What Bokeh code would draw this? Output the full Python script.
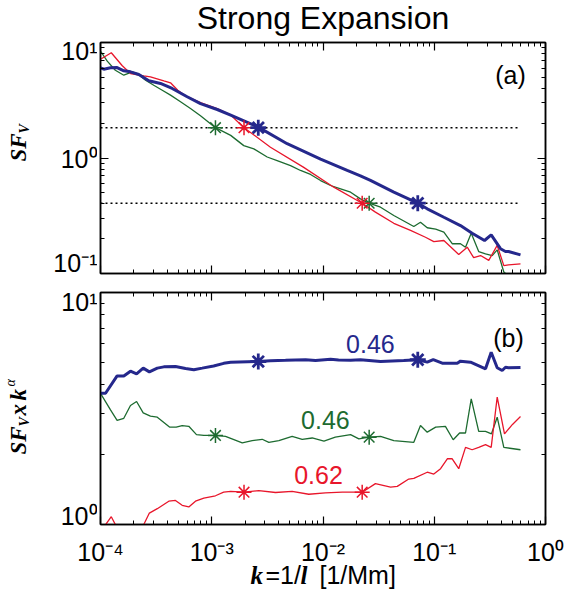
from bokeh.plotting import figure
from bokeh.models import LogAxis, FixedTicker, Label, Range1d
from bokeh.layouts import column, row
from bokeh.embed import file_html
from bokeh.resources import INLINE

# ---------------- data ----------------
TITLE = "Strong Expansion"

# panel (a): structure function SF_V versus k
blue_a_k = [1.00e-4, 1.07e-4, 1.23e-4, 1.41e-4, 1.62e-4, 1.86e-4, 2.21e-4, 2.72e-4, 3.46e-4,
            4.41e-4, 6.01e-4, 7.92e-4, 1.12e-3, 1.48e-3, 2.62e-3, 4.76e-3, 9.51e-3, 1.65e-2,
            2.17e-2, 2.67e-2, 4.33e-2, 7.11e-2, 8.65e-2, 0.122, 0.172, 0.219, 0.283, 0.325,
            0.394, 0.437, 0.465, 0.596]
blue_a_v = [6.04, 5.87, 6.04, 6.07, 5.69, 5.57, 5.28, 4.66, 4.42,
            4.00, 3.39, 2.96, 2.63, 2.35, 1.85, 1.33, 0.98, 0.78,
            0.70, 0.64, 0.506, 0.406, 0.363, 0.307, 0.26, 0.223, 0.193, 0.216,
            0.164, 0.155, 0.155, 0.145]

red_a_k = [1.00e-4, 1.25e-4, 1.57e-4, 1.86e-4, 2.45e-4, 2.81e-4, 3.71e-4, 4.26e-4, 4.95e-4,
           5.81e-4, 7.92e-4, 1.12e-3, 1.48e-3, 1.95e-3, 3.37e-3, 6.71e-3, 1.25e-2, 2.25e-2,
           2.96e-2, 4.33e-2, 6.12e-2, 8.34e-2, 9.91e-2, 0.122, 0.166, 0.198, 0.226, 0.261,
           0.309, 0.368, 0.422, 0.465, 0.596]
red_a_v = [7.17, 8.15, 6.29, 5.39, 5.15, 5.05, 4.66, 4.48, 3.86,
           3.46, 3.02, 2.68, 2.35, 1.83, 1.24, 0.83, 0.559, 0.406,
           0.34, 0.272, 0.236, 0.206, 0.189, 0.193, 0.146, 0.169, 0.137, 0.143,
           0.13, 0.175, 0.117, 0.119, 0.121]

green_a_k = [1.00e-4, 1.15e-4, 1.36e-4, 1.62e-4, 1.93e-4, 2.14e-4, 2.54e-4, 3.01e-4, 3.59e-4,
             4.26e-4, 5.24e-4, 6.44e-4, 7.92e-4, 1.08e-3, 1.48e-3, 1.94e-3, 2.39e-3, 3.15e-3,
             3.87e-3, 5.11e-3, 6.28e-3, 7.73e-3, 9.51e-3, 1.17e-2, 1.44e-2, 1.77e-2, 2.17e-2,
             2.60e-2, 3.29e-2, 4.33e-2, 6.55e-2, 7.52e-2, 8.65e-2, 0.103, 0.122, 0.145, 0.172,
             0.191, 0.215, 0.251, 0.289, 0.332, 0.368, 0.422, 0.465, 0.596]
green_a_v = [8.41, 6.89, 5.75, 5.21, 5.57, 5.39, 4.72, 4.27, 3.86,
             3.50, 3.07, 2.68, 2.32, 1.83, 1.57, 1.28, 1.20, 1.02,
             0.95, 0.86, 0.78, 0.72, 0.638, 0.578, 0.541, 0.506, 0.443,
             0.406, 0.375, 0.318, 0.255, 0.278, 0.249, 0.242, 0.228, 0.181, 0.181,
             0.169, 0.223, 0.155, 0.148, 0.143, 0.16, 0.103, 0.095, 0.085]

# reference levels (dotted) and the crossing points (asterisks)
level_k = [1.0e-4, 0.596]
levels = [1.83, 0.406]
blue_star_k = [2.62e-3, 7.11e-2]
red_star_k = [1.95e-3, 2.25e-2]
green_star_k = [1.08e-3, 2.60e-2]

# panel (b): SF_V x k^alpha
blue_b_k = [1.00e-4, 1.11e-4, 1.41e-4, 1.62e-4, 1.86e-4, 2.11e-4, 2.42e-4, 2.75e-4, 3.24e-4,
            3.71e-4, 4.72e-4, 5.81e-4, 6.90e-4, 8.20e-4, 1.04e-3, 1.28e-3, 1.48e-3, 2.62e-3,
            3.37e-3, 4.60e-3, 6.97e-3, 8.57e-3, 1.17e-2, 1.38e-2, 1.77e-2, 2.17e-2, 3.29e-2,
            5.32e-2, 7.11e-2, 8.65e-2, 9.79e-2, 0.118, 0.161, 0.172, 0.212, 0.289, 0.325,
            0.368, 0.408, 0.437, 0.465, 0.596]
blue_b_v = [3.68, 3.68, 4.37, 4.37, 4.58, 4.46, 4.72, 4.55, 4.72,
            4.78, 4.80, 4.70, 4.65, 4.72, 4.82, 4.95, 5.00, 5.04,
            5.08, 5.10, 5.13, 5.09, 5.15, 5.12, 5.10, 5.13, 5.04,
            5.09, 5.13, 5.01, 5.14, 4.96, 4.96, 5.06, 5.01, 4.69, 5.53,
            4.74, 4.61, 4.76, 4.74, 4.75]

green_b_k = [1.00e-4, 1.23e-4, 1.41e-4, 1.62e-4, 1.86e-4, 2.11e-4, 2.42e-4, 2.81e-4, 3.24e-4,
             4.17e-4, 4.79e-4, 5.42e-4, 6.22e-4, 7.29e-4, 8.49e-4, 1.08e-3, 1.33e-3, 1.88e-3,
             2.31e-3, 2.84e-3, 3.26e-3, 4.01e-3, 5.28e-3, 6.50e-3, 8.00e-3, 1.02e-2, 1.29e-2,
             1.77e-2, 2.10e-2, 2.60e-2, 3.29e-2, 4.33e-2, 6.55e-2, 7.52e-2, 8.65e-2, 0.103,
             0.126, 0.148, 0.169, 0.191, 0.215, 0.251, 0.289, 0.327, 0.368, 0.422, 0.596]
green_b_v = [3.68, 3.12, 2.81, 2.87, 3.26, 3.39, 3.03, 2.93, 2.90,
             2.63, 2.63, 2.67, 2.65, 2.44, 2.42, 2.42, 2.40, 2.25,
             2.30, 2.33, 2.26, 2.30, 2.40, 2.33, 2.36, 2.29, 2.38,
             2.44, 2.34, 2.38, 2.40, 2.30, 2.26, 2.67, 2.50, 2.63,
             2.65, 2.32, 2.48, 2.48, 3.48, 2.52, 2.52, 2.46, 2.90, 2.15, 2.10]

red_b_k = [1.00e-4, 1.25e-4, 1.39e-4, 1.62e-4, 2.00e-4, 2.45e-4, 2.75e-4, 3.24e-4, 4.11e-4,
           4.72e-4, 5.42e-4, 6.22e-4, 7.14e-4, 8.49e-4, 1.08e-3, 1.28e-3, 1.48e-3, 1.95e-3,
           2.65e-3, 3.74e-3, 5.28e-3, 7.45e-3, 1.05e-2, 1.49e-2, 2.25e-2, 2.96e-2, 4.05e-2,
           4.65e-2, 5.90e-2, 6.55e-2, 8.65e-2, 9.91e-2, 0.114, 0.131, 0.145, 0.166, 0.191,
           0.219, 0.251, 0.289, 0.325, 0.368, 0.428, 0.505, 0.596]
red_b_v = [0.93, 1.08, 0.98, 0.90, 0.88, 1.00, 1.12, 1.17, 1.26,
           1.27, 1.21, 1.19, 1.26, 1.30, 1.33, 1.378, 1.39, 1.378,
           1.40, 1.374, 1.39, 1.35, 1.37, 1.38, 1.378, 1.50, 1.45,
           1.46, 1.57, 1.58, 1.68, 1.65, 1.74, 1.92, 1.92, 1.74, 2.15,
           2.10, 2.15, 2.21, 2.15, 3.54, 2.46, 2.70, 2.92]

blue_b_star_v = [5.04, 5.13]
green_b_star_v = [2.42, 2.38]
red_b_star_v = [1.378, 1.378]

slopes = ["0.46", "0.46", "0.62"]   # blue, green, red

x_ticks = [1e-4, 1e-3, 1e-2, 1e-1, 1.0]
x_tick_text = ["10\u207b\u2074", "10\u207b\u00b3", "10\u207b\u00b2", "10\u207b\u00b9", "10\u2070"]
ya_tick_text = ["10\u00b9", "10\u2070", "10\u207b\u00b9"]
yb_tick_text = ["10\u00b9", "10\u2070"]

# ---------------- style / page geometry (pixels) ----------------
BLUE = "#25288c"
GREEN = "#1d6b30"
RED = "#e8162b"
SANS = "Liberation Sans"
SERIF = "Liberation Serif"
PAGE_W = 565
LEFT_W = 97            # strip that holds y titles and y tick labels
FRAME_L, FRAME_R = 100, 545
TOP_H = 36             # strip with the main title
PA_H, PB_H = 247, 245  # panel canvases
BOT_Y = TOP_H + PA_H + PB_H
BOT_H = 596 - BOT_Y


def xticker():
    return FixedTicker(ticks=x_ticks,
                       minor_ticks=[m * 10.0 ** e for e in range(-4, 0) for m in range(2, 10)])


def yticker(lo, hi):
    return FixedTicker(ticks=[10.0 ** e for e in range(lo, hi + 1)],
                       minor_ticks=[m * 10.0 ** e for e in range(lo, hi) for m in range(2, 10)])


def style_axis(ax):
    ax.major_tick_in = 8
    ax.major_tick_out = 0
    ax.minor_tick_in = 4
    ax.minor_tick_out = 0
    ax.axis_line_width = 1.5
    ax.major_tick_line_width = 1.2
    ax.minor_tick_line_width = 1
    ax.axis_line_color = "black"
    ax.major_tick_line_color = "black"
    ax.minor_tick_line_color = "black"
    ax.major_label_text_font_size = "1px"
    ax.major_label_text_alpha = 0
    ax.major_label_standoff = 0


def make_panel(height, top, bottom, yr, ylo, yhi):
    p = figure(width=PAGE_W - 2 - LEFT_W, height=height, x_axis_type="log", y_axis_type="log",
               x_range=Range1d(1e-4, 1.0), y_range=Range1d(*yr),
               output_backend="svg", toolbar_location=None,
               min_border_left=FRAME_L - LEFT_W, min_border_right=PAGE_W - 2 - FRAME_R,
               min_border_top=top, min_border_bottom=bottom)
    p.grid.visible = False
    p.outline_line_color = "black"
    p.outline_line_width = 1.5
    p.xaxis.ticker = xticker()
    p.yaxis.ticker = yticker(ylo, yhi)
    style_axis(p.xaxis[0])
    style_axis(p.yaxis[0])
    top_ax = LogAxis(ticker=xticker())
    style_axis(top_ax)
    p.add_layout(top_ax, "above")
    right_ax = LogAxis(ticker=yticker(ylo, yhi))
    style_axis(right_ax)
    p.add_layout(right_ax, "right")
    return p


def strip(w, h, y_top):
    """blank canvas whose data coordinates equal page pixels (y downward)"""
    f = figure(width=w, height=h, x_range=Range1d(0, w), y_range=Range1d(y_top + h, y_top),
               output_backend="svg", toolbar_location=None,
               x_axis_location=None, y_axis_location=None, min_border=0,
               outline_line_color=None)
    f.grid.visible = False
    return f


def put(p, text, x, y, size, font=SANS, style="normal", color="black",
        align="left", angle=0, units="data"):
    # (x, y) is the middle of the text line
    p.add_layout(Label(x=x, y=y, x_units=units, y_units=units, text=text,
                       text_font=font, text_font_size=size, text_font_style=style,
                       text_color=color, text_align=align, text_baseline="middle",
                       angle=angle, angle_units="deg"))


# ---------------- title strip ----------------
ts = strip(PAGE_W, TOP_H, 0)
put(ts, TITLE, (FRAME_L + FRAME_R) / 2, 17.8, "32px", align="center")

# ---------------- panel (a) ----------------
pa = make_panel(PA_H, 42 - TOP_H, 10, (0.1, 10.0), -1, 1)

for lvl in levels:
    pa.line(level_k, [lvl, lvl], line_color="black", line_width=1.5, line_dash="2 3")

pa.line(green_a_k, green_a_v, line_color=GREEN, line_width=1.3)
pa.line(red_a_k, red_a_v, line_color=RED, line_width=1.3)
pa.line(blue_a_k, blue_a_v, line_color=BLUE, line_width=3)
pa.scatter(green_star_k, levels, marker="asterisk", size=15, line_color=GREEN, line_width=1.5)
pa.scatter(red_star_k, levels, marker="asterisk", size=15, line_color=RED, line_width=1.5)
pa.scatter(blue_star_k, levels, marker="asterisk", size=16, line_color=BLUE, line_width=2.8)

put(pa, "(a)", 410, 199, "25px", align="center", units="screen")

# ---------------- panel (b) ----------------
pb = make_panel(PB_H, 9, 4, (1.0, 10.0), 0, 1)

pb.line(green_b_k, green_b_v, line_color=GREEN, line_width=1.3)
pb.line(red_b_k, red_b_v, line_color=RED, line_width=1.3)
pb.line(blue_b_k, blue_b_v, line_color=BLUE, line_width=3)
pb.scatter(green_star_k, green_b_star_v, marker="asterisk", size=15, line_color=GREEN, line_width=1.5)
pb.scatter(red_star_k, red_b_star_v, marker="asterisk", size=15, line_color=RED, line_width=1.5)
pb.scatter(blue_star_k, blue_b_star_v, marker="asterisk", size=16, line_color=BLUE, line_width=2.8)

for txt, kx, vy, col in [(slopes[0], 0.0267, 5.97, BLUE),
                         (slopes[1], 0.0105, 2.81, GREEN),
                         (slopes[2], 0.00912, 1.64, RED)]:
    pb.add_layout(Label(x=kx, y=vy, text=txt, text_font=SANS, text_font_size="25px",
                        text_color=col, text_align="center", text_baseline="middle"))

put(pb, "(b)", 408, 187, "25px", align="center", units="screen")

# ---------------- left strip: y titles + y tick labels ----------------
ls = strip(LEFT_W, PA_H + PB_H, TOP_H)
for txt, yc in zip(ya_tick_text, [50, 158, 262]):
    put(ls, txt, 97, yc, "25px", align="right")
for txt, yc in zip(yb_tick_text, [301, 515]):
    put(ls, txt, 97, yc, "25px", align="right")
# SF_V   (rotated: text runs upward, x is the middle of the line)
put(ls, "SF", 18, 161, "23px", font=SERIF, style="bold italic", angle=90)
put(ls, "V", 23.5, 133, "14px", font=SERIF, style="bold italic", angle=90)
# SF_V x k^alpha
put(ls, "SF", 18, 454, "23px", font=SERIF, style="bold italic", angle=90)
put(ls, "V", 23.5, 426, "14px", font=SERIF, style="bold italic", angle=90)
put(ls, "x", 18, 415, "23px", font=SERIF, style="bold italic", angle=90)
put(ls, "k", 18, 400, "23px", font=SERIF, style="bold italic", angle=90)
put(ls, "\u03b1", 10, 386, "14px", font=SERIF, style="italic", angle=90)

# ---------------- bottom strip: x tick labels + x title ----------------
bs = strip(PAGE_W, BOT_H, BOT_Y)
for txt, xc in zip(x_tick_text, [FRAME_L + (FRAME_R - FRAME_L) * i / 4 for i in range(5)]):
    put(bs, txt, xc, 551, "25px", align="center")
put(bs, "k", 250, 574.5, "25px", font=SERIF, style="bold italic")
put(bs, "=1/", 265, 574.5, "25px")
put(bs, "l", 300, 574.5, "25px", font=SERIF, style="bold italic")
put(bs, "[1/Mm]", 319, 574.5, "25px")

layout = column(ts, row(ls, column(pa, pb)), bs)
open("out.html", "w").write(file_html(layout, INLINE))
